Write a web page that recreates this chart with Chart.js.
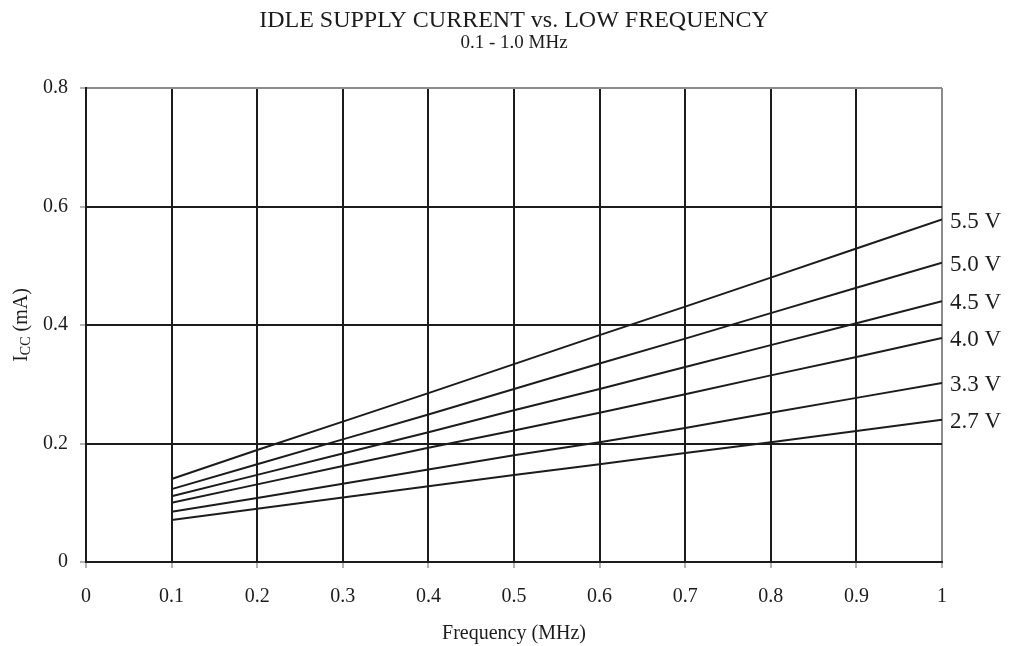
<!DOCTYPE html>
<html>
<head>
<meta charset="utf-8">
<script src="https://cdn.jsdelivr.net/npm/chart.js@4"></script>
<style>
  html, body { margin: 0; padding: 0; background: #fff; }
  #wrap { width: 1009px; height: 646px; }
</style>
</head>
<body>
<div id="wrap"><canvas id="icc-chart" width="1009" height="646"></canvas></div>
<script>
// frequency points (MHz)
const freqs = [0.1, 0.2, 0.3, 0.4, 0.5, 0.6, 0.7, 0.8, 0.9, 1.0];

// supply current (mA) per supply voltage
const series = ['5.5 V', '5.0 V', '4.5 V', '4.0 V', '3.3 V', '2.7 V'];
const icc55 = [0.140, 0.189, 0.237, 0.285, 0.334, 0.383, 0.431, 0.480, 0.529, 0.578];
const icc50 = [0.123, 0.165, 0.207, 0.249, 0.292, 0.335, 0.377, 0.420, 0.463, 0.505];
const icc45 = [0.111, 0.147, 0.183, 0.219, 0.256, 0.292, 0.329, 0.366, 0.403, 0.440];
const icc40 = [0.100, 0.131, 0.162, 0.193, 0.222, 0.252, 0.283, 0.315, 0.346, 0.378];
const icc33 = [0.085, 0.108, 0.132, 0.156, 0.180, 0.202, 0.226, 0.252, 0.277, 0.302];
const icc27 = [0.071, 0.090, 0.109, 0.128, 0.147, 0.165, 0.184, 0.202, 0.221, 0.240];

const xTicks = [0, 0.1, 0.2, 0.3, 0.4, 0.5, 0.6, 0.7, 0.8, 0.9, 1];
const yTicks = [0, 0.2, 0.4, 0.6, 0.8];

const titleText = 'IDLE SUPPLY CURRENT vs. LOW FREQUENCY';
const subtitleText = '0.1 - 1.0 MHz';

const FONT = "'Liberation Serif', 'Times New Roman', serif";
const INK = '#1c1c1c';
const EDGE = '#8c8c8c';

const fmt = v => String(Number(v.toFixed(1)));

function toPoints(vals) {
  return vals.map((v, i) => ({ x: freqs[i], y: v }));
}

const allVals = [icc55, icc50, icc45, icc40, icc33, icc27];

// title + subtitle, centred over the plot area (not the whole canvas)
const headings = {
  id: 'headings',
  afterDraw(chart) {
    const ctx = chart.ctx;
    const a = chart.chartArea;
    const cx = (a.left + a.right) / 2;
    ctx.save();
    ctx.fillStyle = INK;
    ctx.textAlign = 'center';
    ctx.textBaseline = 'middle';
    ctx.font = '24px ' + FONT;
    ctx.fillText(titleText, cx, 21);
    ctx.font = '19px ' + FONT;
    ctx.fillText(subtitleText, cx, 43);
    ctx.restore();
  }
};

// voltage labels at the right end of each line
const endLabels = {
  id: 'endLabels',
  afterDatasetsDraw(chart) {
    const ctx = chart.ctx;
    ctx.save();
    ctx.font = '23px ' + FONT;
    ctx.fillStyle = INK;
    ctx.textBaseline = 'middle';
    ctx.textAlign = 'left';
    chart.data.datasets.forEach((ds, i) => {
      const pts = chart.getDatasetMeta(i).data;
      const last = pts[pts.length - 1];
      ctx.fillText(ds.label, last.x + 8, last.y + 2);
    });
    ctx.restore();
  }
};

// y axis title with subscript: I_CC (mA)
const yTitle = {
  id: 'yTitle',
  afterDraw(chart) {
    const ctx = chart.ctx;
    const a = chart.chartArea;
    ctx.save();
    ctx.translate(20, (a.top + a.bottom) / 2);
    ctx.rotate(-Math.PI / 2);
    ctx.fillStyle = INK;
    ctx.textBaseline = 'alphabetic';
    const big = '20px ' + FONT, small = '14px ' + FONT;
    ctx.font = big;  const w1 = ctx.measureText('I').width;
    ctx.font = small; const w2 = ctx.measureText('CC').width;
    ctx.font = big;  const w3 = ctx.measureText(' (mA)').width;
    let x = -(w1 + w2 + w3) / 2;
    const base = 7;
    ctx.font = big;   ctx.fillText('I', x, base); x += w1;
    ctx.font = small; ctx.fillText('CC', x, base + 3); x += w2;
    ctx.font = big;   ctx.fillText(' (mA)', x, base);
    ctx.restore();
  }
};

const datasets = series.map((name, i) => ({
  label: name,
  data: toPoints(allVals[i]),
  borderColor: INK,
  borderWidth: 2,
  pointRadius: 0,
  tension: 0,
  fill: false,
}));

new Chart(document.getElementById('icc-chart').getContext('2d'), {
  type: 'line',
  data: { datasets },
  plugins: [headings, endLabels, yTitle],
  options: {
    responsive: false,
    animation: false,
    layout: { padding: { top: 88, right: 67, left: 0, bottom: 0 } },
    plugins: {
      legend: { display: false },
      tooltip: { enabled: false },
    },
    scales: {
      x: {
        type: 'linear',
        min: 0,
        max: 1,
        afterBuildTicks: s => { s.ticks = xTicks.map(v => ({ value: v })); },
        afterFit: s => { s.height = 84; },
        ticks: {
          color: INK,
          font: { family: FONT, size: 20 },
          padding: 17,
          maxRotation: 0,
          callback: v => fmt(v),
        },
        grid: {
          color: c => (c.tick && c.tick.value === 1 ? EDGE : INK),
          lineWidth: 2,
          tickLength: 6,
          tickColor: '#666',
          tickWidth: 1,
        },
        border: { color: INK, width: 2 },
        title: {
          display: true,
          text: 'Frequency (MHz)',
          color: INK,
          font: { family: FONT, size: 20 },
          padding: { top: 10, bottom: 0 },
        },
      },
      y: {
        min: 0,
        max: 0.8,
        afterBuildTicks: s => { s.ticks = yTicks.map(v => ({ value: v })); },
        afterFit: s => { s.width = 86; },
        ticks: {
          color: INK,
          font: { family: FONT, size: 20 },
          padding: 12,
          callback: v => fmt(v),
        },
        grid: {
          color: c => (c.tick && c.tick.value === 0.8 ? EDGE : INK),
          lineWidth: 2,
          tickLength: 6,
          tickColor: '#666',
          tickWidth: 1,
        },
        border: { color: INK, width: 2 },
      },
    },
  },
});
</script>
</body>
</html>
